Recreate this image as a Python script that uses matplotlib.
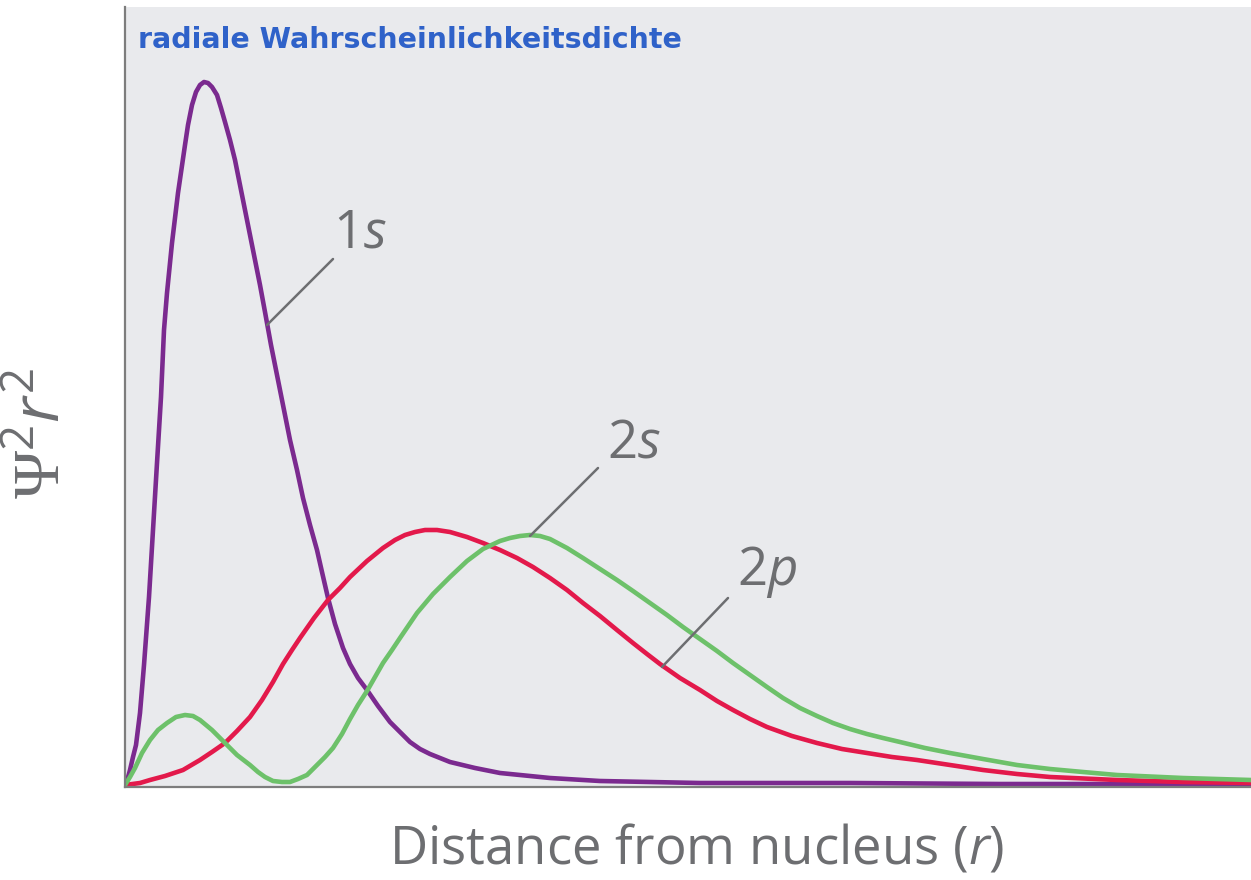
import matplotlib
matplotlib.use("Agg")
import matplotlib.pyplot as plt

# curves: x = distance from the axis origin, y = height
r_1s = [0, 2, 5, 8, 11, 15, 19, 24, 28, 32, 36, 39, 42, 47, 53, 60, 63, 67,
        71, 75, 79, 83, 87, 92, 96, 100, 105, 110, 115, 120, 125, 130, 135,
        140, 146, 153, 159, 165, 172, 178, 185, 192, 197, 203, 210, 218, 225,
        233, 242, 253, 265, 275, 285, 295, 305, 325, 350, 375, 425, 475, 575,
        725, 875, 1126]
p_1s = [0, 4, 15, 28, 40, 72, 120, 188, 255, 322, 388, 455, 492, 542, 592,
        640, 660, 680, 693, 700, 703, 702, 698, 690, 677, 663, 645, 625, 600,
        575, 550, 525, 500, 473, 440, 405, 375, 345, 315, 287, 260, 235, 213,
        187, 161, 137, 121, 107, 95, 79, 63, 53, 43, 36, 31, 23, 17, 12, 7, 4,
        2, 2, 1, 1]

r_2p = [0, 15, 25, 40, 58, 75, 87, 100, 112, 125, 137, 148, 158, 167, 175,
        189, 203, 215, 225, 242, 258, 270, 280, 290, 300, 312, 325, 342, 358,
        375, 392, 408, 425, 442, 458, 475, 492, 508, 522, 535, 555, 575, 592,
        608, 625, 642, 667, 692, 717, 742, 767, 792, 825, 858, 892, 925, 992,
        1058, 1126]
p_2p = [0, 2, 5, 9, 15, 25, 33, 42, 54, 68, 85, 103, 121, 135, 147, 167, 185,
        197, 208, 224, 237, 245, 250, 253, 255, 255, 253, 248, 242, 235, 227,
        218, 207, 195, 182, 169, 155, 142, 131, 121, 107, 95, 84, 75, 66, 58,
        49, 42, 36, 32, 28, 25, 20, 15, 11, 8, 5, 3, 2]

r_2s = [0, 5, 10, 17, 25, 33, 42, 51, 60, 68, 75, 87, 100, 112, 125, 133, 140,
        148, 157, 165, 173, 182, 192, 200, 208, 217, 225, 233, 242, 250, 258,
        267, 275, 292, 308, 325, 342, 358, 375, 385, 395, 405, 415, 425, 442,
        458, 475, 492, 508, 525, 542, 558, 575, 592, 608, 625, 642, 658, 675,
        692, 708, 725, 742, 758, 775, 800, 825, 858, 892, 925, 958, 992, 1058,
        1126]
p_2s = [0, 8, 17, 32, 45, 55, 62, 68, 70, 69, 65, 55, 42, 30, 20, 13, 8, 4, 3,
        3, 6, 10, 20, 28, 37, 51, 66, 80, 94, 108, 122, 135, 147, 172, 191, 208,
        224, 236, 244, 247, 249, 250, 249, 246, 237, 227, 216, 205, 194, 182,
        170, 158, 146, 134, 122, 110, 98, 87, 77, 69, 62, 56, 51, 47, 43, 37,
        32, 26, 20, 16, 13, 10, 7, 5]

TITLE = "radiale Wahrscheinlichkeitsdichte"
XLABEL = "Distance from nucleus ($\\mathit{r}$)"
YLABEL = "$\\mathsf{\\Psi}^2\\mathit{r}^2$"

PURPLE = "#7b2a8f"
RED = "#e3194b"
GREEN = "#6dc16a"
GREY = "#6d6e71"
PANEL = "#e9eaed"

plt.rcParams["font.family"] = ["Open Sans", "DejaVu Sans"]
plt.rcParams["mathtext.fontset"] = "custom"
plt.rcParams["mathtext.rm"] = "Open Sans"
plt.rcParams["mathtext.it"] = "Open Sans:italic"
plt.rcParams["mathtext.sf"] = "Liberation Serif"

W, H = 1251, 880
fig = plt.figure(figsize=(W / 100, H / 100), dpi=100)
ax = fig.add_axes([125 / W, (H - 787) / H, (W - 125) / W, 780 / H])
ax.set_facecolor(PANEL)
ax.set_xlim(0, 1126)
ax.set_ylim(-2, 778)

for r, p, c in [(r_1s, p_1s, PURPLE), (r_2p, p_2p, RED), (r_2s, p_2s, GREEN)]:
    ax.plot(r, p, color=c, lw=3.3, solid_joinstyle="round", solid_capstyle="round")

for side in ("top", "right"):
    ax.spines[side].set_visible(False)
for side in ("left", "bottom"):
    ax.spines[side].set_color("#7d7d7d")
    ax.spines[side].set_linewidth(1.6)
ax.set_xticks([])
ax.set_yticks([])

# curve labels with leader lines
lead = dict(arrowstyle="-", color=GREY, lw=1.8, shrinkA=0, shrinkB=0)
ax.annotate("", xy=(142, 460), xytext=(208, 526), arrowprops=lead)
ax.annotate("", xy=(405, 249), xytext=(473, 317), arrowprops=lead)
ax.annotate("", xy=(537, 118), xytext=(603, 187), arrowprops=lead)
lab = dict(color=GREY, fontsize=38, ha="left", va="baseline")
ax.text(208, 538, "1$\\mathit{s}$", **lab)
ax.text(482, 328, "2$\\mathit{s}$", **lab)
ax.text(612, 200, "2$\\mathit{p}$", **lab)

fig.text(138 / W, 1 - 48 / H, TITLE, color="#2f62c9", fontsize=20.5,
         fontweight="bold", family=["DejaVu Sans"], ha="left", va="baseline")
fig.text(697 / W, 1 - 863 / H, XLABEL, color=GREY, fontsize=38,
         ha="center", va="baseline")
fig.text(43 / W, 1 - 433 / H, YLABEL, color=GREY, fontsize=47,
         rotation=90, ha="center", va="center")

fig.savefig("out.png", dpi=100, facecolor="white")
